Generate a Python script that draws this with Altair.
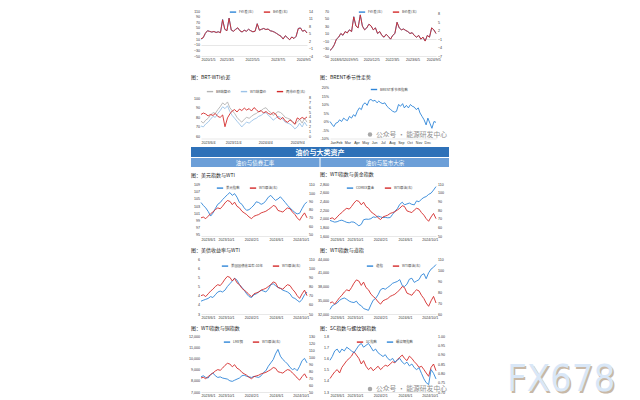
import altair as alt
import pandas as pd

FONT = "Noto Sans CJK SC"
NUMFONT = "Liberation Sans"
BLUE = "#2f86d8"
RED = "#d42a2a"
GRAY = "#b4b4b4"
LBLUE = "#9cc3e8"

# ---------------- data ----------------
a_names = ["F价差(左)", "B价差(右)"]
a_blue = [10, 15, 30, 40, 38, 35, 37, 34, 36, 33, 80, 45, 40, 85, 42, 38, 45, 50, 40, 35,
          42, 38, 45, 40, 36, 38, 65, 42, 45, 48, 44, 46, 40, 38, 35, 30, 25, 20, 10, 22,
          15, 8, 18, 12, 20, 48, 50, 38, 42, 32]
a_red = [2.9, 3.3, 5.1, 6.1, 5.8, 5.6, 5.8, 5.4, 5.7, 5.3, 10.5, 6.7, 6.1, 11.1, 6.4, 5.9, 6.6, 7.3, 6.1, 5.6,
         6.3, 5.9, 6.7, 6.1, 5.7, 5.9, 8.9, 6.3, 6.7, 7.0, 6.6, 6.8, 6.1, 5.9, 5.5, 5.0, 4.4, 3.9, 2.8, 4.1,
         3.3, 2.5, 3.6, 3.0, 3.9, 7.0, 7.2, 5.9, 6.3, 5.2]
a_xticks = [(2020, 1, 5), (2021, 3, 5), (2022, 5, 5), (2023, 7, 5), (2024, 9, 5)]

b_names = ["F价差(左)", "B价差(右)"]
b_blue = [-35, -30, -20, -5, 0, 10, 5, 15, 12, 20, 15, 55, 30, 25, 60, 30, 20, 25, 35, 30,
          20, 25, 10, 15, 5, 0, 8, 2, -5, 5, 10, 40, 25, 20, 22, 18, 15, 10, 12, 5,
          0, 5, -5, 0, -10, 5, 0, 25, 20, 10]
b_red = [-5.0, -4.3, -3.0, -1.0, -0.3, 1.0, 0.4, 1.7, 1.2, 2.3, 1.7, 6.9, 3.7, 3.0, 7.6, 3.6, 2.3, 3.0, 4.3, 3.7,
         2.3, 3.0, 1.0, 1.7, 0.3, -0.3, 0.7, -0.1, -1.0, 0.3, 1.0, 5.0, 3.0, 2.3, 2.6, 2.1, 1.7, 1.0, 1.3, 0.3,
         -0.3, 0.3, -1.0, -0.3, -1.7, 0.3, -0.3, 3.0, 2.3, 1.0]
b_xticks = [(2018, 6, 5), (2019, 9, 5), (2020, 12, 5), (2022, 3, 5), (2023, 6, 5), (2024, 9, 5)]

c_names = ["BR结算价", "WTI结算价", "两市价差(右)"]
c_brent = [76, 74, 77, 79, 82, 85, 84, 88, 91, 95, 93, 96, 90, 87, 84, 80, 77, 75, 78, 80,
           79, 81, 83, 84, 86, 87, 89, 90, 87, 85, 82, 84, 86, 85, 83, 80, 79, 78, 76, 73,
           75, 78, 74, 79, 75]
c_wti = [71, 70, 73, 75, 78, 81, 80, 84, 87, 91, 89, 92, 86, 82, 79, 76, 73, 70, 73, 75,
         74, 76, 78, 79, 81, 82, 84, 85, 82, 80, 77, 79, 81, 80, 78, 75, 74, 73, 71, 68,
         70, 74, 70, 75, 71]
c_spread = [4.5, 4.8, 4.6, 4.2, 4.5, 4.3, 4.7, 4.1, 3.9, 4.4, 2.0, 3.8, 4.6, 5.2, 5.5, 5.0, 5.6, 5.3, 5.8, 5.4,
            5.7, 5.2, 5.9, 5.5, 5.0, 5.3, 4.8, 5.1, 4.7, 4.5, 4.9, 4.6, 3.8, 3.5, 3.9, 3.2, 2.9, 3.4, 3.0, 2.5,
            3.8, 3.5, 3.9, 3.6, 4.0]
c_xticks = [(2023, 6, 4), (2023, 11, 4), (2024, 4, 4), (2024, 9, 4)]

d_name = "BRENT季节性指数"
d_vals = [0, -1.5, -3, -1, -0.5, 1, 0, 2, 1, 0.5, 3, 2, 4, 3, 6, 8, 7, 10, 11, 9.5,
          12.5, 13, 12, 12.5, 11, 12, 11, 10.5, 11, 9, 8, 7, 6, 5.5, 6, 10, 9, 10.5, 8, 9.5,
          8, 10, 9, 8.5, 7, 8, 5, 3, 1, -2, 2, -1, -4, 0, -0.5]

wti_name = "WTI原油(右)"
wti = [70, 71, 69, 72, 75, 77, 80, 82, 81, 84, 88, 91, 90, 86, 89, 84, 82, 78, 76, 74,
       71, 69, 72, 73, 74, 76, 77, 78, 80, 82, 85, 84, 79, 78, 77, 80, 82, 81, 77, 74,
       70, 67, 72, 76, 70]
dxy = [104.0, 103.2, 102.5, 101.5, 100.2, 101.0, 102.3, 103.5, 104.0, 104.8, 105.5, 106.2, 106.8, 106.0, 106.5,
       105.5, 104.0, 103.5, 102.5, 101.8, 102.0, 102.6, 103.3, 104.2, 104.0, 103.5, 103.8, 104.5, 105.5, 106.0,
       105.2, 104.6, 105.0, 105.6, 104.8, 104.0, 103.2, 102.5, 101.8, 101.2, 100.8, 101.0, 102.3, 103.5, 104.2]
gold = [1960, 1940, 1920, 1930, 1955, 1965, 1940, 1915, 1905, 1925, 1920, 1880, 1835, 1870, 1975,
        1990, 1985, 2000, 2040, 2030, 2060, 2040, 2025, 2030, 2020, 2025, 2100, 2170, 2230, 2330,
        2380, 2320, 2340, 2360, 2330, 2320, 2410, 2390, 2450, 2490, 2510, 2560, 2590, 2660, 2740]
ust = [3.70, 3.75, 3.80, 3.85, 3.95, 3.90, 4.05, 4.20, 4.25, 4.20, 4.30, 4.50, 4.65, 4.80, 4.95,
       4.85, 4.60, 4.45, 4.30, 4.10, 3.95, 3.90, 4.05, 4.10, 4.20, 4.30, 4.25, 4.20, 4.35, 4.60,
       4.65, 4.55, 4.45, 4.40, 4.30, 4.25, 4.20, 4.10, 3.90, 3.85, 3.75, 3.65, 3.80, 4.05, 4.20]
dow = [33000, 33800, 34100, 34400, 35000, 35300, 35500, 35200, 34800, 34600, 34500, 34800, 34100, 33800, 33200,
       33000, 32800, 34000, 35000, 35400, 36200, 37300, 37600, 37400, 37800, 38200, 38700, 38900, 39100, 39500,
       38200, 38000, 38500, 39600, 39800, 38900, 39200, 39500, 40500, 40800, 39700, 41000, 41800, 42200, 42800]
copper = [8350, 8450, 8300, 8250, 8550, 8700, 8450, 8300, 8350, 8250, 8200, 8150, 8000, 7950, 8050,
          8150, 8250, 8450, 8500, 8400, 8350, 8300, 8400, 8350, 8300, 8450, 8750, 8900, 9300, 9600,
          9900, 10400, 10800, 10200, 9900, 9700, 9500, 9200, 9000, 9100, 8900, 9300, 9800, 10000, 9600]
sc = [1.42, 1.45, 1.48, 1.50, 1.47, 1.52, 1.55, 1.58, 1.60, 1.62, 1.66, 1.63, 1.60, 1.55, 1.58,
      1.53, 1.50, 1.52, 1.49, 1.51, 1.53, 1.50, 1.52, 1.54, 1.53, 1.55, 1.57, 1.56, 1.59, 1.61,
      1.63, 1.60, 1.58, 1.62, 1.60, 1.57, 1.55, 1.52, 1.53, 1.50, 1.47, 1.44, 1.52, 1.55, 1.49]
rebar = [0.87, 0.89, 0.92, 0.93, 0.91, 0.93, 0.92, 0.94, 0.93, 0.92, 0.91, 0.93, 0.95, 0.96, 0.94,
         0.95, 0.96, 0.94, 0.92, 0.93, 0.91, 0.90, 0.89, 0.90, 0.88, 0.87, 0.88, 0.86, 0.87, 0.88,
         0.86, 0.85, 0.86, 0.84, 0.85, 0.83, 0.82, 0.83, 0.80, 0.77, 0.75, 0.74, 0.82, 0.80, 0.77]
m_xticks = [(2023, 6, 1), (2023, 10, 1), (2024, 2, 1), (2024, 6, 1), (2024, 10, 1)]

titles = {
    "c": "图：BRT-WTI价差", "d": "图：BRENT季节性走势",
    "e": "图：美元指数与WTI", "f": "图：WTI指数与黄金指数",
    "g": "图：美债收益率与WTI", "h": "图：WTI指数与道指",
    "i": "图：WTI指数与铜指数", "j": "图：SC指数与螺纹钢指数",
}
header_text = ["油价与大类资产"]
sub_texts = ["油价与债券汇率", "油价与股市大宗"]
watermark = ["公众号 · 能源研发中心"]
brand = ["FX678"]

# ---------------- helpers ----------------
def dates(start, end, n):
    return [d.strftime("%Y-%m-%d") for d in pd.date_range(start, end, periods=n)]

a_d = dates("2020-01-05", "2024-11-05", len(a_blue))
b_d = dates("2018-06-05", "2024-11-05", len(b_blue))
c_d = dates("2023-06-04", "2024-10-20", len(c_brent))
d_d = dates("2024-01-01", "2024-12-31", len(d_vals))
m_d = dates("2023-06-01", "2024-10-31", len(wti))

LF = 3.6


def xaxis(ticks, fmt):
    return alt.Axis(values=[alt.DateTime(year=y, month=m, date=d) for y, m, d in ticks],
                    format=fmt, labelFontSize=LF, labelFont=NUMFONT, labelAngle=0, labelOverlap=False,
                    labelPadding=1.5, ticks=False, domain=True, domainColor="#d0d0d0",
                    domainWidth=0.5, grid=False, title=None, labelColor="#333333")


def yaxis(orient, values, fmt=None, label_expr=None, gridval=None):
    kw = dict(orient=orient, values=values, labelFontSize=LF, labelFont=NUMFONT, labelPadding=1.5,
              ticks=False, domain=False, title=None, minExtent=8, maxExtent=8, labelColor="#333333")
    if fmt:
        kw["format"] = fmt
    if label_expr:
        kw["labelExpr"] = label_expr
    if gridval is not None:
        kw["grid"] = True
        kw["gridColor"] = "#d6d6d6"
        kw["gridWidth"] = 0.6
        kw["gridOpacity"] = {"condition": {"test": f"datum.value == {gridval}", "value": 1}, "value": 0}
    else:
        kw["grid"] = False
    return alt.Axis(**kw)


def frame(d, series):
    parts = [pd.DataFrame({"d": d, "v": vals, "s": name}) for name, vals, _ in series]
    return pd.concat(parts, ignore_index=True)


def panel(d, left, right, xticks, xfmt, ldom, lticks, rdom=None, rticks=None,
          lfmt=None, rfmt=None, lexpr=None, legend_xy=(0, 0), w=106, h=50,
          title=None, lgrid=None, rgrid=None, toff=5, extra=()):
    allser = left + right
    cscale = alt.Scale(domain=[s[0] for s in allser], range=[s[2] for s in allser])
    leg = alt.Legend(orient="none", legendX=legend_xy[0], legendY=legend_xy[1],
                     direction="horizontal", title=None, symbolType="stroke",
                     symbolSize=40, symbolStrokeWidth=1.4, labelFontSize=3.4, labelFont=FONT,
                     columnPadding=7, padding=0, labelLimit=150, labelColor="#444444",
                     labelOffset=2)
    X = alt.X("d:T", axis=xaxis(xticks, xfmt), scale=alt.Scale(nice=False))
    layers = [alt.Chart(frame(d, left)).mark_line(strokeWidth=0.9).encode(
        x=X,
        y=alt.Y("v:Q", scale=alt.Scale(domain=ldom, nice=False, zero=False),
                axis=yaxis("left", lticks, lfmt, lexpr, lgrid)),
        color=alt.Color("s:N", scale=cscale, legend=leg))]
    if right:
        layers.append(alt.Chart(frame(d, right)).mark_line(strokeWidth=0.9).encode(
            x=X,
            y=alt.Y("v:Q", scale=alt.Scale(domain=rdom, nice=False, zero=False),
                    axis=yaxis("right", rticks, rfmt, None, rgrid)),
            color=alt.Color("s:N", scale=cscale, legend=leg)))
    layers.extend(extra)
    ch = alt.layer(*layers)
    if right:
        ch = ch.resolve_scale(y="independent")
    props = dict(width=w, height=h)
    if title:
        props["title"] = alt.TitleParams(text=title, anchor="start", fontSize=5, offset=toff,
                                         frame="group", dx=-10,
                                         color="#222222", font=FONT, fontWeight="normal")
    return ch.properties(**props)


def wm_layers(x, y):
    df = pd.DataFrame({"t": watermark})
    return [
        alt.Chart(df).mark_circle(color="#a8a8a8", size=20, opacity=1).encode(
            x=alt.value(x - 6), y=alt.value(y)),
        alt.Chart(df).mark_text(align="left", color="#8f8f8f", fontSize=6.8, font=FONT).encode(
            text="t:N", x=alt.value(x), y=alt.value(y)),
    ]


def brand_layers(x, y):
    df = pd.DataFrame({"t": brand})
    fnt = "Liberation Sans Narrow, DejaVu Sans Condensed, Liberation Sans"
    return [
        alt.Chart(df).mark_text(align="left", baseline="alphabetic", color="#c8b8a6", fontSize=38,
                                font=fnt).encode(
            text="t:N", x=alt.value(x + 1.5), y=alt.value(y + 1.5)),
        alt.Chart(df).mark_text(align="left", baseline="alphabetic", color="#d9e7f7", fontSize=38,
                                font=fnt).encode(
            text="t:N", x=alt.value(x), y=alt.value(y)),
    ]

YMD = "%Y/%-m/%-d"

pa = panel(a_d, [(a_names[0], a_blue, BLUE)], [(a_names[1], a_red, RED)], a_xticks, YMD,
           [-50, 110], [-50, -30, -10, 10, 30, 50, 70, 90, 110], [-4, 14], [-4, -1, 2, 5, 8, 11, 14],
           legend_xy=(28, -3), h=45, lgrid=-10)
pb = panel(b_d, [(b_names[0], b_blue, BLUE)], [(b_names[1], b_red, RED)], b_xticks, YMD,
           [-50, 70], [-50, -30, -10, 10, 30, 50, 70], [-7, 9], [-7, -4, -1, 2, 5, 8],
           legend_xy=(28, -3), h=45, rgrid=-1)
pc = panel(c_d, [(c_names[0], c_brent, GRAY), (c_names[1], c_wti, LBLUE)],
           [(c_names[2], c_spread, RED)], c_xticks, YMD,
           [58, 111], [60, 70, 80, 90, 100], [-0.4, 10], [0, 1, 2, 3, 4, 5, 6, 7, 8],
           legend_xy=(5, 0), h=51, title=titles["c"], toff=8)
pdd = panel(d_d, [(d_name, d_vals, BLUE)], [], [(2024, m, 1) for m in range(1, 13)], "%b",
            [-10, 20], [-10, -5, 0, 5, 10, 15, 20], lexpr="datum.value + '%'",
            legend_xy=(40, -2), h=51, title=titles["d"], toff=6, extra=wm_layers(46, 47))

pe = panel(m_d, [("美元指数", dxy, BLUE)], [(wti_name, wti, RED)], m_xticks, YMD,
           [94.6, 109.2], [95, 97, 99, 101, 103, 105, 107, 109], [48, 111], [50, 60, 70, 80, 90, 100, 110],
           legend_xy=(15, 0), h=52, title=titles["e"], toff=5)
pf = panel(m_d, [("COMEX黄金", gold, BLUE)], [(wti_name, wti, RED)], m_xticks, YMD,
           [1600, 2800], [1600, 1800, 2000, 2200, 2400, 2600, 2800], [50, 110], [50, 60, 70, 80, 90, 100, 110],
           lfmt=",.0f", legend_xy=(16, 0), h=52, title=titles["f"], toff=5)
pg = panel(m_d, [("美国国债收益率:10年", ust, BLUE)], [(wti_name, wti, RED)], m_xticks, YMD,
           [3, 6], [3, 3.5, 4, 4.5, 5, 5.5, 6], [50, 110], [50, 60, 70, 80, 90, 100, 110],
           lfmt=".0f", legend_xy=(20, 3), h=55, title=titles["g"], toff=4.5)
ph = panel(m_d, [("道指", dow, BLUE)], [(wti_name, wti, RED)], m_xticks, YMD,
           [32000, 44000], [32000, 35000, 38000, 41000, 44000], [60, 110], [60, 70, 80, 90, 100, 110],
           lfmt=",.0f", legend_xy=(36, 3), h=55, title=titles["h"], toff=4.5)
pi = panel(m_d, [("LME铜", copper, BLUE)], [(wti_name, wti, RED)], m_xticks, YMD,
           [7000, 12000], [7000, 8000, 9000, 10000, 11000, 12000], [50, 130],
           [50, 60, 70, 80, 90, 100, 110, 120, 130],
           lfmt=",.0f", legend_xy=(22, 2), h=56, title=titles["i"], toff=3.5)
pj = panel(m_d, [("SC指数", sc, RED)], [("螺纹钢指数", rebar, BLUE)], m_xticks, YMD,
           [1.3, 1.8], [1.3, 1.4, 1.5, 1.6, 1.7, 1.8], [0.7, 1.0], [0.70, 0.75, 0.80, 0.85, 0.90, 0.95, 1.00],
           lfmt=".1f", rfmt=".2f", legend_xy=(26, 2), h=56, title=titles["j"], toff=3.5,
           extra=wm_layers(46, 53) + brand_layers(177, 55))

BW = 258
X0 = -10
hdf = pd.DataFrame({"t": header_text})
header = alt.layer(
    alt.Chart(hdf).mark_rect(color="#2e71b8").encode(
        x=alt.value(X0), x2=alt.value(X0 + BW), y=alt.value(0), y2=alt.value(10)),
    alt.Chart(hdf).mark_text(color="white", fontSize=7, fontWeight="bold", font=FONT).encode(
        text="t:N", x=alt.value(X0 + BW / 2), y=alt.value(5.5)),
).properties(width=235, height=10)

sdf1 = pd.DataFrame({"t": [sub_texts[0]]})
sdf2 = pd.DataFrame({"t": [sub_texts[1]]})
sub = alt.layer(
    alt.Chart(sdf1).mark_rect(color="#6c9fd8").encode(
        x=alt.value(X0), x2=alt.value(X0 + 128.5), y=alt.value(0), y2=alt.value(9)),
    alt.Chart(sdf2).mark_rect(color="#6c9fd8").encode(
        x=alt.value(X0 + 129.5), x2=alt.value(X0 + BW), y=alt.value(0), y2=alt.value(9)),
    alt.Chart(sdf1).mark_text(color="white", fontSize=5.5, font=FONT).encode(
        text="t:N", x=alt.value(X0 + 64), y=alt.value(5)),
    alt.Chart(sdf2).mark_text(color="white", fontSize=5.5, font=FONT).encode(
        text="t:N", x=alt.value(X0 + 194), y=alt.value(5)),
).properties(width=235, height=9)


def hrow(p1, p2):
    return alt.hconcat(p1, p2, spacing=23, bounds="flush").resolve_scale(color="independent")


def vcol(*items, spacing):
    return alt.vconcat(*items, spacing=spacing).resolve_scale(color="independent")


row1 = hrow(pa, pb)
row2 = hrow(pc, pdd)
row3 = hrow(pe, pf)
row4 = hrow(pg, ph)
row5 = hrow(pi, pj)

g1 = vcol(row1, row2, spacing=12.5)
g2 = vcol(header, sub, spacing=1)
g12 = vcol(g1, g2, spacing=3)
g3 = vcol(row3, row4, row5, spacing=5)

chart = vcol(g12, g3, spacing=5).properties(
    padding={"left": 180, "top": 0, "right": 0, "bottom": 0},
    background="white",
).configure(font=FONT).configure_view(strokeWidth=0)

chart.save("out.html", embed_options={"renderer": "svg", "actions": False})
